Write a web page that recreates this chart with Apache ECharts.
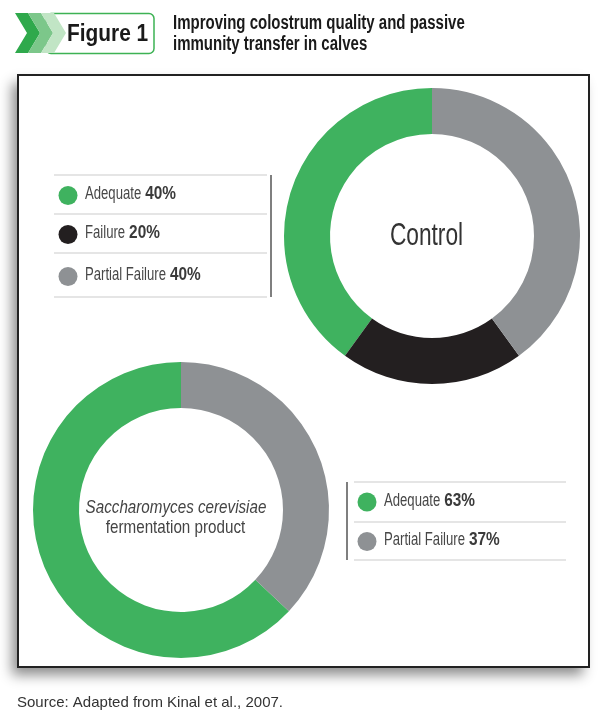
<!DOCTYPE html>
<html>
<head>
<meta charset="utf-8">
<script src="https://cdn.jsdelivr.net/npm/echarts@6/dist/echarts.min.js"></script>
<style>
  html, body { margin: 0; padding: 0; background: #fff; }
  #chart { width: 610px; height: 721px; }
</style>
</head>
<body>
<div id="chart"></div>
<script>
// data
const controlNames = ['Adequate', 'Failure', 'Partial Failure'];
const controlValues = [40, 20, 40];
const controlColors = ['#3fb25f', '#231f20', '#8e9194'];

const scfpNames = ['Adequate', 'Partial Failure'];
const scfpValues = [63, 37];
const scfpColors = ['#3fb25f', '#8e9194'];

const sans = "'Liberation Sans', Arial, sans-serif";

const chartDom = document.getElementById('chart');
const myChart = echarts.init(chartDom, null, { renderer: 'canvas' });

// text width helper (used to place the bold % after the condensed name)
const mctx = document.createElement('canvas').getContext('2d');
const textW = (font, s) => { mctx.font = font; return mctx.measureText(s).width; };

const NAME_FONT = '17.5px ' + sans;
const PCT_FONT = 'bold 17.5px ' + sans;
const NAME_SX = 0.75;
const PCT_SX = 0.88;

// legend rows drawn from the data arrays
const legendItems = (names, values, colors, x, ys) => {
  const out = [];
  names.forEach((n, i) => {
    const y = ys[i];
    out.push({ type: 'circle', z: 7, shape: { cx: x, cy: y, r: 9.5 }, style: { fill: colors[i] } });
    out.push({
      type: 'text', z: 7, x: x + 17, y: y - 1, scaleX: NAME_SX,
      style: { text: n, font: NAME_FONT, fill: '#474747', verticalAlign: 'middle' }
    });
    const px = x + 17 + textW(NAME_FONT, n) * NAME_SX + 4;
    out.push({
      type: 'text', z: 7, x: px, y: y - 1, scaleX: PCT_SX,
      style: { text: values[i] + '%', font: PCT_FONT, fill: '#3a3a3a', verticalAlign: 'middle' }
    });
  });
  return out;
};

const hline = (x1, x2, y) => ({
  type: 'line', z: 5,
  shape: { x1: x1, y1: y, x2: x2, y2: y },
  style: { stroke: '#dcdcdc', lineWidth: 1.5 }
});
const vline = (x, y1, y2) => ({
  type: 'line', z: 5,
  shape: { x1: x, y1: y1, x2: x, y2: y2 },
  style: { stroke: '#555', lineWidth: 1.5 }
});
const chevron = (x, color) => ({
  type: 'polygon', z: 6,
  shape: { points: [[x, 13], [x + 13, 13], [x + 25, 33], [x + 13, 53], [x, 53], [x + 12, 33]] },
  style: { fill: color }
});

const option = {
  animation: false,
  backgroundColor: '#fff',
  graphic: [
    // panel with shadow
    {
      type: 'rect', z: 0,
      shape: { x: 18, y: 75, width: 571, height: 592 },
      style: { fill: '#fff', shadowBlur: 12, shadowOffsetX: -6, shadowOffsetY: 8, shadowColor: 'rgba(0,0,0,0.45)' }
    },
    {
      type: 'rect', z: 1,
      shape: { x: 18, y: 75, width: 571, height: 592 },
      style: { fill: 'none', stroke: '#222', lineWidth: 2 }
    },
    // header
    {
      type: 'rect', z: 5,
      shape: { x: 46, y: 13.5, width: 108, height: 40, r: 5 },
      style: { fill: '#fff', stroke: '#3db254', lineWidth: 1.5 }
    },
    chevron(15, '#2fa94c'),
    chevron(28, '#7cc78a'),
    chevron(41, '#c1e5c5'),
    {
      type: 'text', z: 7, x: 67, y: 34, scaleX: 0.87,
      style: { text: 'Figure 1', font: 'bold 24px ' + sans, fill: '#1a1a1a', verticalAlign: 'middle' }
    },
    {
      type: 'text', z: 7, x: 173, y: 23, scaleX: 0.75,
      style: { text: 'Improving colostrum quality and passive', font: 'bold 20px ' + sans, fill: '#1a1a1a', verticalAlign: 'middle' }
    },
    {
      type: 'text', z: 7, x: 173, y: 44, scaleX: 0.75,
      style: { text: 'immunity transfer in calves', font: 'bold 20px ' + sans, fill: '#1a1a1a', verticalAlign: 'middle' }
    },
    // legend separators
    hline(54, 267, 175), hline(54, 267, 214), hline(54, 267, 253), hline(54, 267, 297),
    vline(271, 175, 297),
    hline(354, 566, 482), hline(354, 566, 522), hline(354, 566, 560),
    vline(347, 482, 560),
    ...legendItems(controlNames, controlValues, controlColors, 68, [195.5, 234.5, 276.5]),
    ...legendItems(scfpNames, scfpValues, scfpColors, 367, [502, 541.5]),
    // centre labels
    {
      type: 'text', z: 7, x: 426.5, y: 236, scaleX: 0.71,
      style: { text: 'Control', font: '32px ' + sans, fill: '#333', align: 'center', verticalAlign: 'middle' }
    },
    {
      type: 'text', z: 7, x: 176, y: 508, scaleX: 0.8,
      style: { text: 'Saccharomyces cerevisiae', font: 'italic 19px ' + sans, fill: '#444', align: 'center', verticalAlign: 'middle' }
    },
    {
      type: 'text', z: 7, x: 175.5, y: 528, scaleX: 0.8,
      style: { text: 'fermentation product', font: '19px ' + sans, fill: '#444', align: 'center', verticalAlign: 'middle' }
    },
    // source
    {
      type: 'text', z: 7, x: 17, y: 703,
      style: { text: 'Source: Adapted from Kinal et al., 2007.', font: '15px ' + sans, fill: '#333', verticalAlign: 'middle' }
    }
  ],
  series: [
    {
      name: 'Control', type: 'pie', z: 3,
      center: [432, 236], radius: [102, 148],
      startAngle: 90, clockwise: false,
      label: { show: false }, labelLine: { show: false },
      emphasis: { scale: false },
      itemStyle: { borderWidth: 0 },
      data: controlNames.map((n, i) => ({ name: n, value: controlValues[i], itemStyle: { color: controlColors[i] } }))
    },
    {
      name: 'SCFP', type: 'pie', z: 3,
      center: [181, 510], radius: [102, 148],
      startAngle: 90, clockwise: false,
      label: { show: false }, labelLine: { show: false },
      emphasis: { scale: false },
      itemStyle: { borderWidth: 0 },
      data: scfpNames.map((n, i) => ({ name: n, value: scfpValues[i], itemStyle: { color: scfpColors[i] } }))
    }
  ]
};

myChart.setOption(option);
window.addEventListener('resize', () => {
  myChart.resize();
});
</script>
</body>
</html>
